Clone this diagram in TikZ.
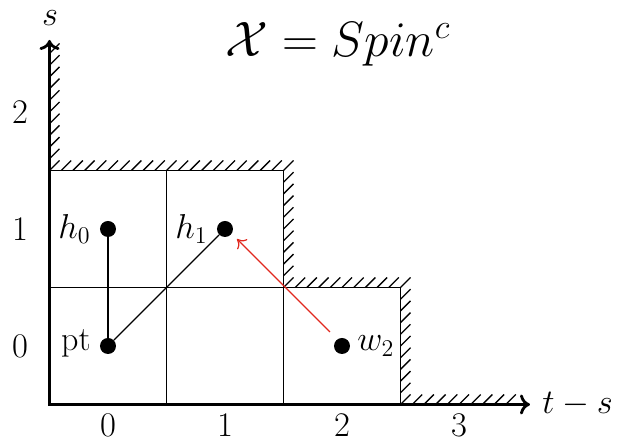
\documentclass[tikz,border=0pt]{standalone}
\usetikzlibrary{arrows.meta}
\begin{document}
\begin{tikzpicture}[x=0.5pt,y=-0.5pt,
  axis/.style={line width=1.4pt},
  gridline/.style={line width=0.75pt},
  hatch/.style={line width=0.65pt},
  dot/.style={circle,fill=black,inner sep=0pt,minimum size=8pt},
  lbl/.style={font=\fontsize{17}{20}\selectfont,inner sep=0pt},
  conn/.style={line width=0.7pt},
  redarrow/.style={line width=0.6pt,draw={rgb,255:red,225;green,40;blue,30},-{To[length=4pt,width=7pt]}}]
\useasboundingbox (0,0) rectangle (618,442);
% coordinates
\coordinate (O) at (49.5,404.5);
\coordinate (ytop) at (49.5,40);
\coordinate (xend) at (530,404.5);
\coordinate (A) at (49.5,170.5);
\coordinate (B) at (283.5,170.5);
\coordinate (C) at (283.5,287.5);
\coordinate (D) at (400.5,287.5);
\coordinate (E) at (400.5,404.5);
\coordinate (F) at (49.5,287.5);
\coordinate (G) at (166.5,170.5);
\coordinate (H) at (166.5,404.5);
\coordinate (I) at (283.5,404.5);
% hatching
\foreach \i in {1,...,10} \draw[hatch] (49.5,{170.5-11.7*\i}) -- ++(10,-10);
\foreach \i in {0,...,20} \draw[hatch] ({49.5+11.7*\i},170.5) -- ++(10,-10);
\foreach \i in {1,...,10} \draw[hatch] (283.5,{170.5+11.7*\i}) -- ++(10,-10);
\foreach \i in {1,...,10} \draw[hatch] ({283.5+11.7*\i},287.5) -- ++(10,-10);
\foreach \i in {1,...,10} \draw[hatch] (400.5,{287.5+11.7*\i}) -- ++(10,-10);
\foreach \i in {1,...,9} \draw[hatch] ({400.5+11.7*\i},404.5) -- ++(10,-10);
% grid and boundary
\draw[gridline] (A) -- (B) -- (C) -- (D) -- (E);
\draw[gridline] (F) -- (C);
\draw[gridline] (G) -- (H);
\draw[gridline] (C) -- (I);
% axes
\draw[axis,{To[length=5pt,width=10pt]}-{To[length=5pt,width=10pt]}] (ytop) -- (O) -- (xend);
\node[lbl] (slab) at (50,18) {$s$};
\node[lbl,anchor=west] (tslab) at (542,404.5) {$t-s$};
% tick labels
\node[lbl] (x0) at (108,425) {$0$};
\node[lbl] (x1) at (225,425) {$1$};
\node[lbl] (x2) at (342,425) {$2$};
\node[lbl] (x3) at (459,425) {$3$};
\node[lbl] (y0) at (20,346) {$0$};
\node[lbl] (y1) at (20,229) {$1$};
\node[lbl] (y2) at (20,112) {$2$};
% dots
\node[dot] (pt) at (108,346) {};
\node[dot] (h0) at (108,229) {};
\node[dot] (h1) at (225,229) {};
\node[dot] (w2) at (342,346) {};
\node[lbl,anchor=east] (ptl) at (91,343) {pt};
\node[lbl,anchor=east] (h0l) at (91,229) {$h_0$};
\node[lbl,anchor=east] (h1l) at (208,229) {$h_1$};
\node[lbl,anchor=west] (w2l) at (357,346) {$w_2$};
\draw[conn] (pt) -- (h0);
\draw[conn] (pt) -- (h1);
\coordinate (rs) at (330,332);
\coordinate (re) at (237,239);
\draw[redarrow] (rs) -- (re);
% title
\node[font=\fontsize{27}{32}\selectfont,inner sep=0pt] (title) at (338,44) {$\mathcal{X} = Spin^{c}$};
\end{tikzpicture}
\end{document}
